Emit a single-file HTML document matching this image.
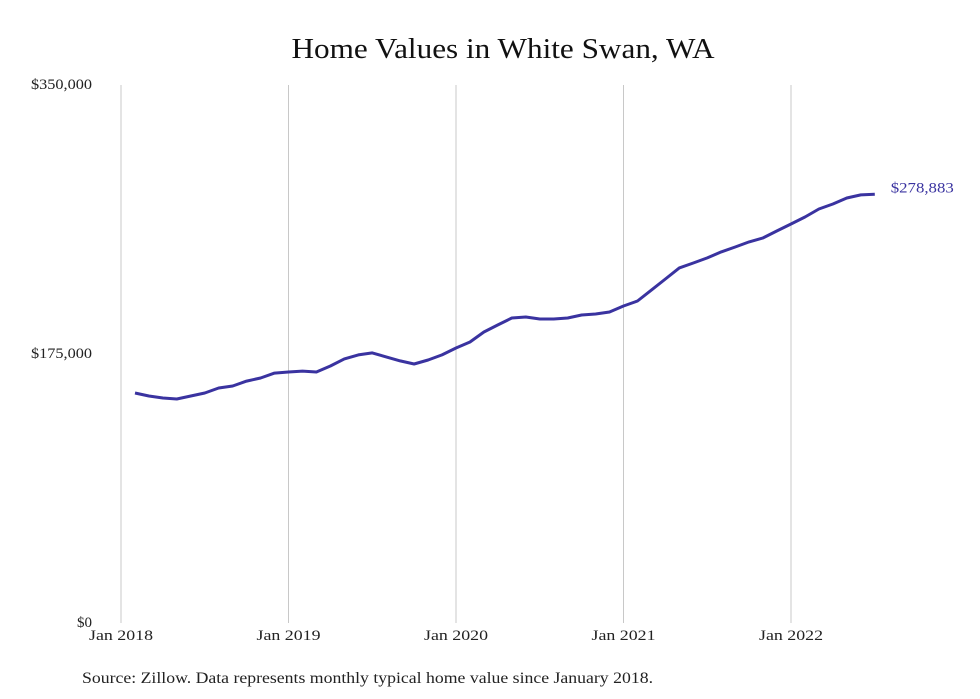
<!DOCTYPE html>
<html><head><meta charset="utf-8"><style>
body{margin:0;background:#fff;}
svg{display:block;font-family:"Liberation Serif",serif;}
</style></head><body>
<svg id="chart" width="980" height="699">
<text x="503" y="58" text-anchor="middle" font-size="29" textLength="423" lengthAdjust="spacingAndGlyphs" fill="#111">Home Values in White Swan, WA</text>
<g id="grid"></g><g id="ylab"></g><g id="xlab"></g><g id="series"></g>
<text x="82" y="683" font-size="16" textLength="571" lengthAdjust="spacingAndGlyphs" fill="#222">Source: Zillow. Data represents monthly typical home value since January 2018.</text>
</svg>
<script>
const values=[149.6,147.7,146.4,145.7,147.7,149.6,152.9,154.2,157.4,159.4,162.6,163.3,163.9,163.3,167.2,171.8,174.4,175.7,173.1,170.5,168.5,171.1,174.4,178.9,182.8,189.3,193.9,198.4,199.1,197.8,197.8,198.4,200.4,201.0,202.3,206.2,209.5,216.6,223.8,231.0,234.2,237.5,241.4,244.6,247.9,250.5,255.1,259.6,264.1,269.3,272.6,276.5,278.5,278.883];
const startMonth=1; // Feb 2018 (months since Jan 2018)
const yTicks=[0,175000,350000];
const yTickLabels=["$0","$175,000","$350,000"];
const xTicks=[0,12,24,36,48];
const xTickLabels=["Jan 2018","Jan 2019","Jan 2020","Jan 2021","Jan 2022"];
const lastLabel="$278,883";
const NS="http://www.w3.org/2000/svg";
const x=m=>121+m*(670/48);
const y=v=>623-v/350000*538;
function mk(t,a,p){const e=document.createElementNS(NS,t);for(const k in a)e.setAttribute(k,a[k]);p.appendChild(e);return e;}
const grid=document.getElementById('grid'),yl=document.getElementById('ylab'),xl=document.getElementById('xlab'),se=document.getElementById('series');
xTicks.forEach((m,i)=>{
 const l=mk('line',{x1:x(m),x2:x(m),y1:85,y2:623,stroke:'#c8c8c8','stroke-width':1},grid);
 
 
 const t=mk('text',{x:x(m),y:640,'text-anchor':'middle','font-size':15,textLength:64,lengthAdjust:'spacingAndGlyphs',fill:'#222'},xl);
 t.textContent=xTickLabels[i];
 
 
});
yTicks.forEach((v,i)=>{
 const a={x:92,y:y(v)+4,'text-anchor':'end','font-size':15,fill:'#222'};
 if(yTickLabels[i].length>3){a.textLength=61;a.lengthAdjust='spacingAndGlyphs';}
 const t=mk('text',a,yl);
 t.textContent=yTickLabels[i];
 
 
});
const pts=values.map((v,i)=>x(startMonth+i).toFixed(1)+','+y(v*1000).toFixed(1)).join(' ');
const pl=mk('polyline',{points:pts,fill:'none',stroke:'#3a33a0','stroke-width':3,'stroke-linejoin':'round'},se);


const li=values.length-1;
const lt=mk('text',{x:x(startMonth+li)+16,y:y(values[li]*1000)-2,'font-size':15,textLength:63,lengthAdjust:'spacingAndGlyphs',fill:'#3a33a0'},se);
lt.textContent=lastLabel;


</script>
</body></html>
